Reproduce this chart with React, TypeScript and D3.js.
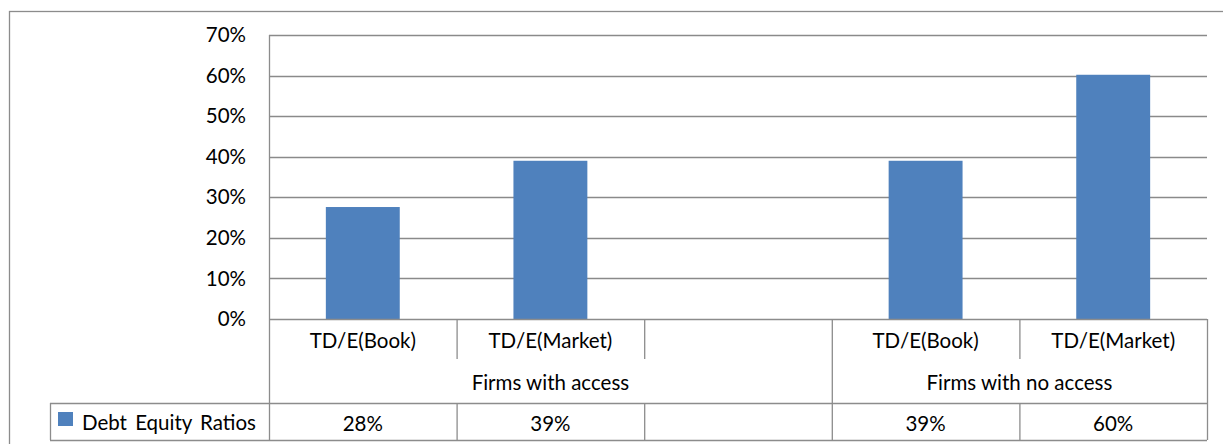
import React from "react";
import * as d3 from "d3";

const categories = ["TD/E(Book)", "TD/E(Market)", "", "TD/E(Book)", "TD/E(Market)"];
const groups = [
  { label: "Firms with access", start: 0, end: 3 },
  { label: "Firms with no access", start: 3, end: 5 },
];
const values: (number | null)[] = [0.276, 0.39, null, 0.39, 0.602];
const tableLabels = ["28%", "39%", "", "39%", "60%"];
const seriesName = "Debt Equity Ratios";
const yTicks = [0, 0.1, 0.2, 0.3, 0.4, 0.5, 0.6, 0.7];

const W = 1223;
const H = 444;
const plotL = 269;
const plotR = 1207;
const plotT = 35;
const plotB = 319;
const row1B = 359;
const row2B = 403;
const row3B = 440;
const legendL = 50;

const FONT = "Lato, 'Open Sans', sans-serif";
const FS = 20.5;
const GRID = "#8a8a8a";
const BORDER = "#8c8c8c";
const BAR = "#4f81bd";

export default function App() {
  const x = d3.scaleBand<number>().domain(d3.range(categories.length)).range([plotL, plotR]).padding(0);
  const y = d3.scaleLinear().domain([0, 0.7]).range([plotB, plotT]);
  const bw = x.bandwidth();
  const barW = bw * 0.394;
  const fmt = d3.format(".0%");
  const edge = (i: number) => (i >= categories.length ? plotR : (x(i) as number));

  return (
    <div style={{ position: "absolute", left: 0, top: 0 }}>
      <svg width={W} height={H} style={{ display: "block" }} fontFamily={FONT}>
        <rect x={0} y={0} width={W} height={H} fill="#fff" />
        <rect x={9.5} y={11.5} width={W + 20} height={H + 20} fill="none" stroke={BORDER} strokeWidth={1.3} />
        {/* gridlines */}
        {yTicks.slice(1).map((t) => (
          <line key={t} x1={plotL} x2={plotR} y1={Math.round(y(t)) + 0.5} y2={Math.round(y(t)) + 0.5} stroke={GRID} strokeWidth={1.3} />
        ))}
        {/* y labels */}
        {yTicks.map((t) => (
          <text key={"l" + t} x={246} y={y(t)} dy="0.35em" textAnchor="end" fontSize={FS} fill="#000">
            {fmt(t)}
          </text>
        ))}
        {/* bars */}
        {values.map((v, i) =>
          v == null ? null : (
            <rect key={i} x={(x(i) as number) + (bw - barW) / 2} y={y(v)} width={barW} height={y(0) - y(v)} fill={BAR} />
          )
        )}
        {/* axis line and table */}
        <g stroke={BORDER} strokeWidth={1.3} fill="none">
          <line x1={plotL + 0.5} x2={plotL + 0.5} y1={plotT} y2={row3B} />
          <line x1={plotL} x2={plotR} y1={plotB + 0.5} y2={plotB + 0.5} />
          <line x1={plotR + 0.5} x2={plotR + 0.5} y1={plotB} y2={row3B} />
          {d3.range(1, categories.length).map((i) => (
            <line key={"v" + i} x1={edge(i) + 0.5} x2={edge(i) + 0.5} y1={plotB} y2={row1B} />
          ))}
          {groups.slice(1).map((g) => (
            <line key={"g" + g.start} x1={edge(g.start) + 0.5} x2={edge(g.start) + 0.5} y1={row1B} y2={row2B} />
          ))}
          <line x1={legendL} x2={plotR} y1={row2B + 0.5} y2={row2B + 0.5} />
          <line x1={legendL} x2={plotR} y1={row3B + 0.5} y2={row3B + 0.5} />
          <line x1={legendL + 0.5} x2={legendL + 0.5} y1={row2B} y2={row3B} />
          {d3.range(1, categories.length).map((i) => (
            <line key={"t" + i} x1={edge(i) + 0.5} x2={edge(i) + 0.5} y1={row2B} y2={row3B} />
          ))}
        </g>
        {/* category labels */}
        {categories.map((c, i) => (
          <text key={"c" + i} x={(x(i) as number) + bw / 2} y={(plotB + row1B) / 2 + 2} dy="0.35em" textAnchor="middle" fontSize={FS} fill="#000">
            {c}
          </text>
        ))}
        {groups.map((g) => (
          <text key={g.label} x={(edge(g.start) + edge(g.end)) / 2} y={(row1B + row2B) / 2 + 2} dy="0.35em" textAnchor="middle" fontSize={FS} fill="#000">
            {g.label}
          </text>
        ))}
        {tableLabels.map((t, i) => (
          <text key={"tv" + i} x={(x(i) as number) + bw / 2} y={(row2B + row3B) / 2 + 2} dy="0.35em" textAnchor="middle" fontSize={FS} fill="#000">
            {t}
          </text>
        ))}
        {/* legend */}
        <rect x={58} y={412} width={15} height={14} fill={BAR} />
        <text x={82} y={(row2B + row3B) / 2 + 1} dy="0.35em" fontSize={FS} fill="#000" wordSpacing={3}>
          {seriesName}
        </text>
      </svg>
    </div>
  );
}
